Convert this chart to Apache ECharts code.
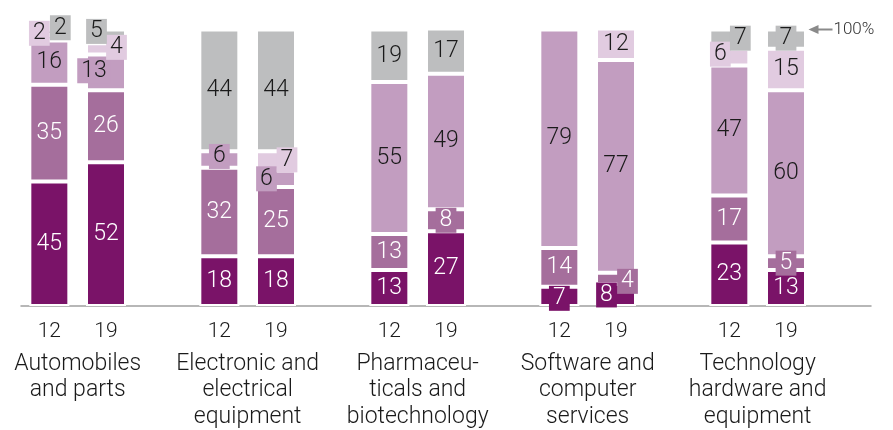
<!DOCTYPE html>
<html><head><meta charset="utf-8">
<script src="https://cdn.jsdelivr.net/npm/echarts@6/dist/echarts.min.js"></script>
<style>html,body{margin:0;padding:0;background:#fff}#c{width:893px;height:430px}</style>
</head><body><div id="c"></div>
<script>
// ---- data ----
const groups = ['Automobiles\nand parts', 'Electronic and\nelectrical\nequipment', 'Pharmaceu-\nticals and\nbiotechnology', 'Software and\ncomputer\nservices', 'Technology\nhardware and\nequipment'];
const years = ['12', '19'];
// bar order: Auto12, Auto19, Elec12, Elec19, Pharma12, Pharma19, Soft12, Soft19, Tech12, Tech19
const seg1 = [45, 52, 18, 18, 13, 27, 7, 8, 23, 13];
const seg2 = [35, 26, 32, 25, 13, 8, 14, 4, 17, 5];
const seg3 = [16, 13, 6, 6, 55, 49, 79, 77, 47, 60];
const seg4 = [2, 4, 0, 7, 0, 0, 0, 12, 6, 15];
const seg5 = [2, 5, 44, 44, 19, 17, 0, 0, 7, 7];
const topLabel = '100%';

// ---- styles ----
const FONT = 'Roboto, "Liberation Sans", sans-serif';
const FW = 300;
const colors = ['#7a1368', '#a56e9c', '#c29dc0', '#e1cbe0', '#bdbebf'];
const textColors = ['#ffffff', '#ffffff', '#1a1a1a', '#1a1a1a', '#1a1a1a'];
// label adjustments for small segments: key = series-barIndex
const boxed = {
  '3-0': [-10, -4.5], '4-0': [11, -4.5],
  '2-1': [-12, -1.5], '3-1': [10.5, -1.5], '4-1': [-9.5, -5],
  '2-2': [0, -3],
  '2-3': [-9.5, 0], '3-3': [11, -1],
  '1-5': [0, 0],
  '0-6': [0, 2],
  '0-7': [-9.5, 0], '1-7': [11.5, 3],
  '3-8': [-9, -3], '4-8': [11, -1],
  '1-9': [0, 0], '4-9': [0, -1]
};

const segs = [seg1, seg2, seg3, seg4, seg5];
const slotsPerGroup = 3;
const nSlots = groups.length * slotsPerGroup;
const xCats = [];
groups.forEach(() => { years.forEach(y => xCats.push(y)); xCats.push(''); });
const groupCats = [];
for (let i = 0; i <= nSlots * 2; i++) groupCats.push('');
groups.forEach((g, gi) => { groupCats[2 + gi * 6] = g; });

const series = segs.map((arr, si) => {
  const data = new Array(nSlots).fill('-');
  arr.forEach((v, bi) => {
    const slot = Math.floor(bi / 2) * slotsPerGroup + (bi % 2);
    if (!v) { data[slot] = '-'; return; }
    const key = si + '-' + bi;
    const adj = boxed[key];
    const lbl = { show: true, position: 'inside' };
    if (adj) {
      lbl.offset = adj;
      lbl.backgroundColor = colors[si];
      lbl.padding = [2, 4, 1, 4];
    }
    data[slot] = { value: v, label: lbl };
  });
  return {
    type: 'bar', stack: 'all', barWidth: 40, data,
    itemStyle: { color: colors[si], borderColor: '#ffffff', borderWidth: 2 },
    label: { show: false, color: textColors[si], fontSize: 23, fontFamily: FONT, fontWeight: FW, lineHeight: 22 }
  };
});

const chart = echarts.init(document.getElementById('c'), null, { renderer: 'canvas' });
chart.setOption({
  animation: false,
  backgroundColor: '#ffffff',
  grid: { left: 21, right: 22, top: 29.5, bottom: 123 },
  xAxis: [
    {
      type: 'category', data: xCats,
      axisLine: { lineStyle: { color: '#a0a0a0', width: 1.5 } },
      axisTick: { show: false },
      axisLabel: { interval: 0, color: '#1a1a1a', fontSize: 21, fontFamily: FONT, fontWeight: FW, margin: 15 }
    },
    {
      type: 'category', data: groupCats, boundaryGap: false, position: 'bottom',
      axisLine: { show: false }, axisTick: { show: false },
      axisLabel: { interval: 0, color: '#1a1a1a', fontSize: 23, fontFamily: FONT, fontWeight: FW, margin: 44.5, lineHeight: 26.5 }
    }
  ],
  yAxis: { type: 'value', min: 0, max: 100, show: false, splitLine: { show: false } },
  series
});

const p = chart.convertToPixel({ xAxisIndex: 0, yAxisIndex: 0 }, [13, 100]);
const x0 = p[0] + 22.5, y0 = p[1];
chart.setOption({
  graphic: [
    { type: 'polygon', shape: { points: [[x0, y0], [x0 + 10, y0 - 4.5], [x0 + 10, y0 + 4.5]] }, style: { fill: '#8a8a8a' } },
    { type: 'line', shape: { x1: x0 + 8, y1: y0, x2: x0 + 24, y2: y0 }, style: { stroke: '#8a8a8a', lineWidth: 2 } },
    { type: 'text', x: x0 + 25, y: y0, style: { text: topLabel, fill: '#333', fontSize: 17, fontFamily: FONT, fontWeight: FW, verticalAlign: 'middle' } }
  ]
});
</script>
</body></html>
